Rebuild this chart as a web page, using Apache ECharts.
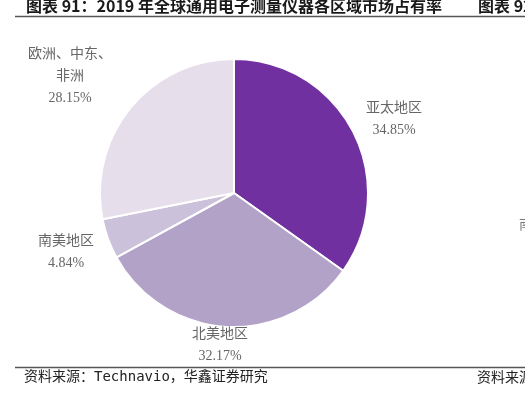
<!DOCTYPE html>
<html>
<head>
<meta charset="utf-8">
<script src="https://cdn.jsdelivr.net/npm/echarts@6/dist/echarts.min.js"></script>
<style>
html,body{margin:0;padding:0;background:#fff;}
#c{width:525px;height:395px;}
</style>
</head>
<body>
<div id="c"></div>
<script>
var categories = ['亚太地区', '北美地区', '南美地区', '欧洲、中东、\n非洲'];
var shares = [34.85, 32.17, 4.84, 28.15];
var colors = ['#7030A0', '#B3A2C7', '#CCC1DA', '#E6DEEB'];
var titleText = '图表 91：2019 年全球通用电子测量仪器各区域市场占有率';
var nextTitleText = '图表 92';
var sourceText = '资料来源：Technavio，华鑫证券研究';
var nextSourceText = '资料来源';

var labelPos = [[394, 119], [220, 345], [66, 252], [70, 76]];

var chart = echarts.init(document.getElementById('c'), null, {renderer: 'canvas'});
var data = categories.map(function (n, i) {
  return {name: n, value: shares[i], itemStyle: {color: colors[i]}};
});
chart.setOption({
  animation: false,
  backgroundColor: '#fff',
  graphic: [
    {type: 'text', left: 26, top: -2, style: {text: titleText, font: 'bold 16px "Noto Sans CJK SC", sans-serif', fill: '#1a1a1a'}},
    {type: 'text', left: 478, top: -2, style: {text: nextTitleText, font: 'bold 16px "Noto Sans CJK SC", sans-serif', fill: '#1a1a1a'}},
    {type: 'line', shape: {x1: 15, y1: 16.5, x2: 525, y2: 16.5}, style: {stroke: '#555', lineWidth: 1.5}},
    {type: 'line', shape: {x1: 15, y1: 367.5, x2: 525, y2: 367.5}, style: {stroke: '#555', lineWidth: 1.5}},
    {type: 'text', left: 24, top: 370, style: {text: sourceText, font: '14px "DejaVu Sans Mono", "Noto Sans CJK SC", monospace', fill: '#222'}},
    {type: 'text', left: 477, top: 370, style: {text: nextSourceText, font: '14px "Noto Sans CJK SC", sans-serif', fill: '#222'}},
    {type: 'text', left: 519, top: 218, style: {text: '南', font: '13px "Noto Sans CJK SC", serif', fill: '#777'}}
  ],
  series: [{
    type: 'pie',
    center: [234, 193],
    radius: 134,
    startAngle: 90,
    clockwise: true,
    data: data,
    itemStyle: {borderColor: '#fff', borderWidth: 2},
    label: {
      show: true,
      position: 'outside',
      overflow: 'none',
      alignTo: 'none',
      bleedMargin: 0,
      formatter: function (p) { return p.name + '\n' + p.value.toFixed(2) + '%'; },
      fontFamily: '"Liberation Serif", "Noto Sans CJK SC", serif',
      fontSize: 14,
      lineHeight: 22,
      color: '#666',
      align: 'center'
    },
    labelLine: {show: false},
    labelLayout: function (params) {
      var p = labelPos[params.dataIndex];
      return {x: p[0], y: p[1], align: 'center', verticalAlign: 'middle'};
    },
    emphasis: {disabled: true}
  }]
});
</script>
</body>
</html>
